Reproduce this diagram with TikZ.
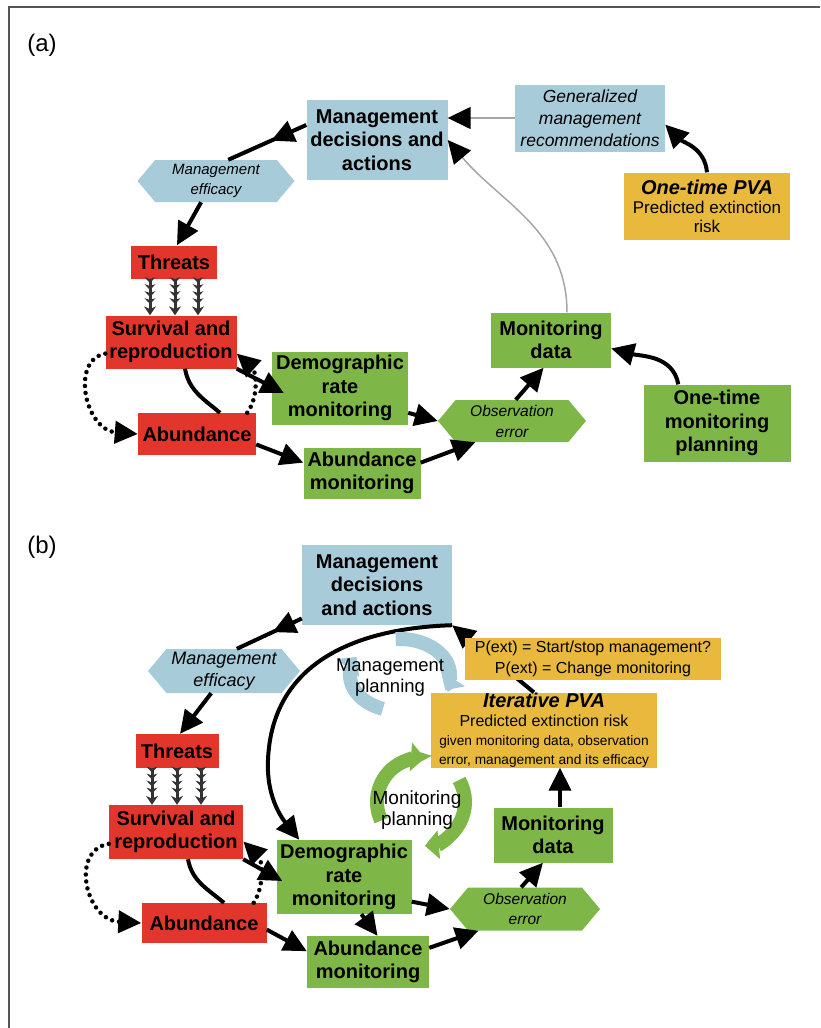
\documentclass[tikz,border=0pt]{standalone}
\usepackage{fontspec}
\setmainfont{Liberation Sans}
\usetikzlibrary{calc}
\usetikzlibrary{arrows.meta}
\usetikzlibrary{shapes.symbols}
\usetikzlibrary{decorations.markings}
\definecolor{mgtblue}{HTML}{A8CBDA}
\definecolor{popred}{HTML}{E2362D}
\definecolor{monigreen}{HTML}{7EB648}
\definecolor{pvaorange}{HTML}{E8B93C}
\definecolor{framegrey}{HTML}{555555}
\newcommand{\cyclearc}[7]{
    \pgfmathsetmacro{\cx}{#1}
    \pgfmathsetmacro{\cy}{#2}
    \pgfmathsetmacro{\rx}{#3}
    \pgfmathsetmacro{\ry}{#4}
    \draw[line width=14pt, #7, -{Triangle[length=14pt,width=28pt]}] ($(\cx,\cy)+(#5:\rx pt and \ry pt)$)
        arc[start angle=#5, end angle=#6, x radius=\rx, y radius=\ry];
}

\begin{document}
\begin{tikzpicture}[x=1pt, y=1pt,
    box/.style={inner sep=0pt, align=center, font=\bfseries\fontsize{20}{23.5}\selectfont},
    bluebox/.style={box, fill=mgtblue},
    redbox/.style={box, fill=popred},
    greenbox/.style={box, fill=monigreen},
    pvabox/.style={box, fill=pvaorange, font=\fontsize{17}{19}\selectfont},
    hexa/.style={shape=signal, signal to=east and west, signal pointer angle=100, inner sep=0pt, align=center,
        font=\itshape\fontsize{15}{20}\selectfont},
    bluehex/.style={hexa, fill=mgtblue},
    greenhex/.style={hexa, fill=monigreen},
    arr/.style={line width=4pt, -{Triangle[length=23pt,width=22pt]}},
    headnear/.style={line width=4pt, postaction={decorate},
        decoration={markings, mark=at position #1 with {\arrow{Triangle[length=23pt,width=22pt]}}}},
    dotarr/.style={line width=4.5pt, line cap=round, dash pattern=on 0pt off 7pt, -{Triangle[length=23pt,width=22pt]}},
    greyarr/.style={line width=1.5pt, draw=gray!70, -{Triangle[length=23pt,width=22pt,color=black]}},
    thrarr/.style={line width=3pt, draw=black!80, -{Stealth[length=9pt,width=12pt]}, postaction={decorate},
        decoration={markings, mark=between positions 0.12 and 0.72 step 7pt with {\arrow{Stealth[length=6pt,width=11pt]}}}}]
\useasboundingbox (0,0) rectangle (820,-1028);
\draw[line width=1.5pt, framegrey] (9,-1028) -- (9,-7) -- (820,-7);
\node[font=\fontsize{24}{24}\selectfont] (labA) at (42,-45) {(a)};
\node[font=\fontsize{24}{24}\selectfont] (labB) at (42,-547) {(b)};

% (a) one-time PVA
\node[bluebox, minimum width=141pt, minimum height=80pt] (mdaA) at (377,-140) {Management\\decisions and\\actions};
\node[bluebox, font=\itshape\fontsize{17.5}{22}\selectfont, minimum width=150pt, minimum height=67pt] (genA) at (590,-118) {Generalized\\management\\recommendations};
\node[pvabox, minimum width=166pt, minimum height=67pt] (pvaA) at (707,-206) {{\bfseries\itshape\fontsize{20}{20}\selectfont One-time PVA}\\Predicted extinction\\risk};
\node[bluehex, minimum width=157pt, minimum height=42pt] (effA) at (216,-181) {Management\\efficacy};
\node[redbox, minimum width=86pt, minimum height=33pt] (thrA) at (174,-262) {Threats};
\node[redbox, minimum width=131pt, minimum height=53pt] (surA) at (171,-342) {Survival and\\reproduction};
\node[redbox, minimum width=118pt, minimum height=42pt] (abuA) at (197,-434) {Abundance};
\node[greenbox, minimum width=136pt, minimum height=73pt] (demA) at (340,-388) {Demographic\\rate\\monitoring};
\node[greenbox, minimum width=117pt, minimum height=51pt] (amoA) at (362,-473) {Abundance\\monitoring};
\node[greenhex, font=\itshape\fontsize{15.5}{21}\selectfont, minimum width=148pt, minimum height=42pt] (obsA) at (512,-421) {Observation\\error};
\node[greenbox, minimum width=120pt, minimum height=55pt] (mdtA) at (551,-340) {Monitoring\\data};
\node[greenbox, minimum width=147pt, minimum height=77pt] (otmA) at (717,-423) {One-time\\monitoring\\planning};

\draw[headnear=0.45] (mdaA.168) -- (effA.60);
\draw[arr] (effA.235) -- (thrA.80);
\foreach \dx in {-24,1,24}
    \draw[thrarr] ($(thrA.south)+(\dx,0)$) -- ($(surA.north)+(\dx+3,0)$);
\draw[line width=4pt] ($(surA.south)+(14,0)$) to[out=-80, in=140] ($(abuA.north)+(23,0)$);
\draw[dotarr] (surA.190) .. controls (70,-360) and (85,-430) .. (abuA.west);
\draw[dotarr] ($(abuA.north east)+(-9,0)$) .. controls (260,-395) and (255,-370) .. (surA.-10);
\draw[arr] (surA.south east) -- ($(demA.west)+(12,-5)$);
\draw[arr] (abuA.-10) -- (amoA.170);
\draw[arr] (demA.-20) -- (obsA.west);
\draw[arr] (amoA.10) -- (obsA.210);
\draw[arr] (obsA.80) -- (mdtA.255);
\draw[arr] (otmA.135) to[out=100, in=-15] (mdtA.-8);
\draw[greyarr] (mdtA.60) to[out=90, in=-50] (mdaA.east);
\draw[greyarr] (genA.west) -- (genA.west -| mdaA.east);
\draw[arr] (pvaA.north) to[out=95, in=-45] (genA.-5);

% (b) iterative PVA
\node[bluebox, minimum width=150pt, minimum height=80pt] (mdaB) at (377,-585) {Management\\decisions\\and actions};
\node[bluehex, font=\itshape\fontsize{18}{22}\selectfont, minimum width=152pt, minimum height=44pt] (effB) at (224,-671) {Management\\efficacy};
\node[redbox, minimum width=83pt, minimum height=34pt] (thrB) at (177,-751) {Threats};
\node[redbox, minimum width=134pt, minimum height=54pt] (surB) at (176,-832) {Survival and\\reproduction};
\node[redbox, minimum width=125pt, minimum height=40pt] (abuB) at (204,-923) {Abundance};
\node[greenbox, minimum width=135pt, minimum height=74pt] (demB) at (344,-877) {Demographic\\rate\\monitoring};
\node[greenbox, minimum width=122pt, minimum height=52pt] (amoB) at (368,-962) {Abundance\\monitoring};
\node[greenhex, font=\itshape\fontsize{15.5}{20}\selectfont, minimum width=150pt, minimum height=43pt] (obsB) at (525,-909) {Observation\\error};
\node[greenbox, minimum width=119pt, minimum height=55pt] (mdtB) at (553,-835) {Monitoring\\data};
\node[pvabox, minimum width=226pt, minimum height=75pt] (ipvB) at (544,-730)
    {{\bfseries\itshape\fontsize{20}{20}\selectfont Iterative PVA}\\{\fontsize{16}{17}\selectfont Predicted extinction risk}\\{\fontsize{13.7}{16}\selectfont given monitoring data, observation}\\{\fontsize{13.7}{16}\selectfont error, management and its efficacy}};

\draw[headnear=0.45] (mdaB.204) -- (effB.60);
\draw[arr] (effB.240) -- (thrB.80);
\foreach \dx in {-25,0,24}
    \draw[thrarr] ($(thrB.south)+(\dx,0)$) -- ($(surB.north)+(\dx+1,0)$);
\draw[line width=4pt] ($(surB.south)+(12,0)$) to[out=-80, in=140] ($(abuB.north)+(20,0)$);
\draw[dotarr] (surB.190) .. controls (70,-850) and (85,-920) .. (abuB.west);
\draw[dotarr] ($(abuB.north east)+(-13,0)$) .. controls (265,-885) and (262,-860) .. (surB.-8);
\draw[arr] (surB.south east) -- ($(demB.west)+(6,-4)$);
\draw[arr] (abuB.-6) -- (amoB.170);
\draw[arr] (demB.-65) -- (amoB.70);
\draw[arr] (demB.-20) -- (obsB.west);
\draw[arr] (amoB.13) -- (obsB.205);
\draw[arr] (obsB.100) -- (mdtB.250);
\draw[arr] ($(mdtB.north)+(7,0)$) -- ($(ipvB.south)+(16,0)$);
\draw[arr] (ipvB.105) -- (mdaB.south east);
\draw[arr] (mdaB.south east) .. controls (360,-628) and (272,-660) .. (268,-760)
    .. controls (266,-800) and (285,-822) .. ($(demB.north west)+(23,0)$);
\node[pvabox, font=\fontsize{16}{21}\selectfont, minimum width=256pt, minimum height=42pt] (pexB) at (593,-659) {P(ext) = Start/stop management?\\P(ext) = Change monitoring};

\cyclearc{400}{-675}{50}{36}{250}{150}{mgtblue}
\cyclearc{400}{-675}{50}{36}{95}{-25}{mgtblue}
\cyclearc{421}{-802}{44}{44}{205}{85}{monigreen}
\cyclearc{421}{-802}{44}{44}{30}{-85}{monigreen}
\node[align=center, font=\fontsize{18.5}{21}\selectfont] (mplB) at (390,-678) {Management\\planning};
\node[align=center, font=\fontsize{19}{21}\selectfont] (moplB) at (417,-810) {Monitoring\\planning};
\end{tikzpicture}
\end{document}
